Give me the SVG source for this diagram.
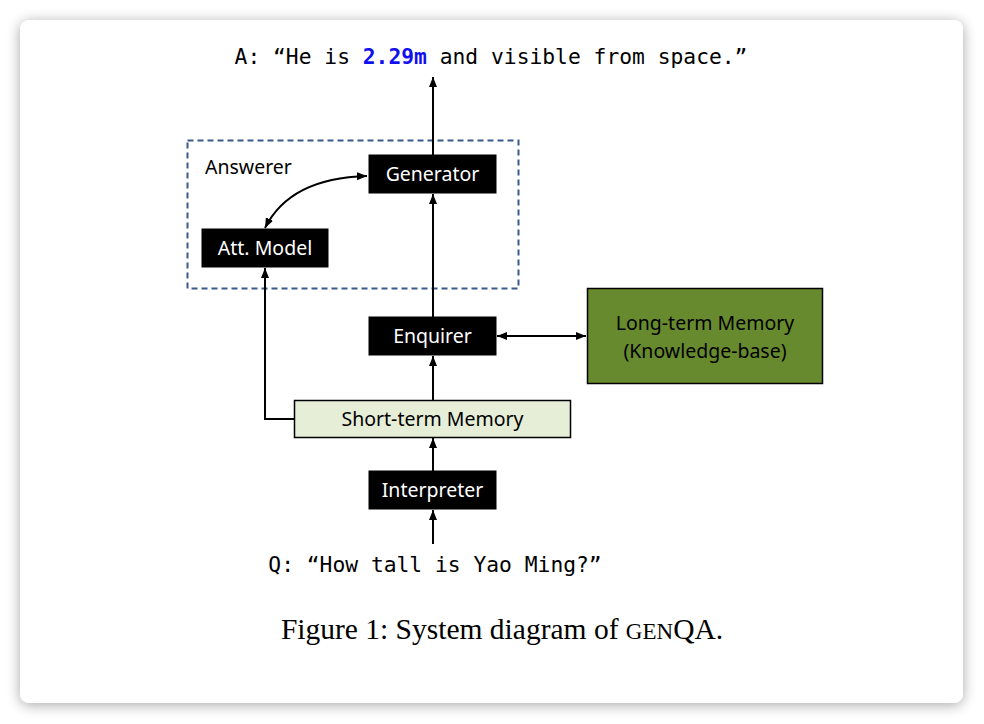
<svg xmlns="http://www.w3.org/2000/svg" width="984" height="724" viewBox="0 0 984 724">
<defs>
<filter id="sh" x="-10%" y="-10%" width="120%" height="120%">
<feGaussianBlur in="SourceAlpha" stdDeviation="7"/>
<feOffset dx="0" dy="2" result="b"/>
<feComponentTransfer><feFuncA type="linear" slope="0.35"/></feComponentTransfer>
<feMerge><feMergeNode/><feMergeNode in="SourceGraphic"/></feMerge>
</filter>
<marker id="ah" viewBox="0 0 10 10" refX="10" refY="5" markerWidth="10" markerHeight="10" markerUnits="userSpaceOnUse" orient="auto-start-reverse">
<path d="M0,1 L10,5 L0,9 Z" fill="#000"/>
</marker>
</defs>
<style>
.box{fill:#000;stroke:#000;stroke-width:1}
.wt{font-family:"Noto Sans","Open Sans",sans-serif;font-size:19.5px;fill:#fff;text-anchor:middle}
.bt{font-family:"Noto Sans","Open Sans",sans-serif;font-size:19.5px;fill:#000;text-anchor:middle}
.mono{font-family:"DejaVu Sans Mono","Liberation Mono",monospace;font-size:21.3px;fill:#000}
.ln{fill:none;stroke:#000;stroke-width:2}
</style>
<rect x="0" y="0" width="984" height="724" fill="#fff"/>
<rect x="20" y="20" width="943" height="683" rx="9" fill="#fff" filter="url(#sh)"/>

<text class="mono" x="491" y="64" text-anchor="middle">A: “He is <tspan fill="#1010ee" font-weight="bold">2.29m</tspan> and visible from space.”</text>

<g id="answerer">
<rect x="187.5" y="140.5" width="331" height="148" fill="none" stroke="#3a5a8c" stroke-width="2" stroke-dasharray="6,4"/>
<text x="205" y="174" font-family="Noto Sans,Open Sans,sans-serif" font-size="19.5" fill="#000">Answerer</text>
</g>
<g id="generator">
<rect class="box" x="369" y="155" width="127" height="38"/>
<text class="wt" x="432.5" y="181">Generator</text>
</g>
<g id="att-model">
<rect class="box" x="202" y="229" width="126" height="38"/>
<text class="wt" x="265" y="255">Att. Model</text>
</g>
<g id="enquirer">
<rect class="box" x="369" y="317" width="127" height="38"/>
<text class="wt" x="432.5" y="343">Enquirer</text>
</g>
<g id="long-term-memory">
<rect x="587.5" y="288.5" width="235" height="95" fill="#688a2e" stroke="#000" stroke-width="1.5"/>
<text class="bt" x="705" y="330">Long-term Memory</text>
<text class="bt" x="705" y="358">(Knowledge-base)</text>
</g>
<g id="short-term-memory">
<rect x="294.5" y="400.5" width="276" height="37" fill="#e6eed8" stroke="#000" stroke-width="1.5"/>
<text class="bt" x="432.5" y="426">Short-term Memory</text>
</g>
<g id="interpreter">
<rect class="box" x="369" y="471" width="127" height="38"/>
<text class="wt" x="432.5" y="497">Interpreter</text>
</g>

<g id="connectors">
<line class="ln" x1="433" y1="155" x2="433" y2="77" marker-end="url(#ah)"/>
<line class="ln" x1="433" y1="317" x2="433" y2="194" marker-end="url(#ah)"/>
<line class="ln" x1="433" y1="400" x2="433" y2="356" marker-end="url(#ah)"/>
<line class="ln" x1="433" y1="471" x2="433" y2="438" marker-end="url(#ah)"/>
<line class="ln" x1="433" y1="544" x2="433" y2="510" marker-end="url(#ah)"/>
<line class="ln" x1="497" y1="336" x2="586" y2="336" marker-start="url(#ah)" marker-end="url(#ah)"/>
<polyline class="ln" points="294,419 265,419 265,268" marker-end="url(#ah)"/>
<path class="ln" d="M367,176 Q290,178 265,228" marker-start="url(#ah)" marker-end="url(#ah)"/>
</g>

<text class="mono" x="435" y="572" text-anchor="middle">Q: “How tall is Yao Ming?”</text>

<text x="502" y="639" text-anchor="middle" font-family="Liberation Serif,serif" font-size="29.5" fill="#000">Figure 1: System diagram of <tspan font-size="23">GEN</tspan>QA.</text>
</svg>
